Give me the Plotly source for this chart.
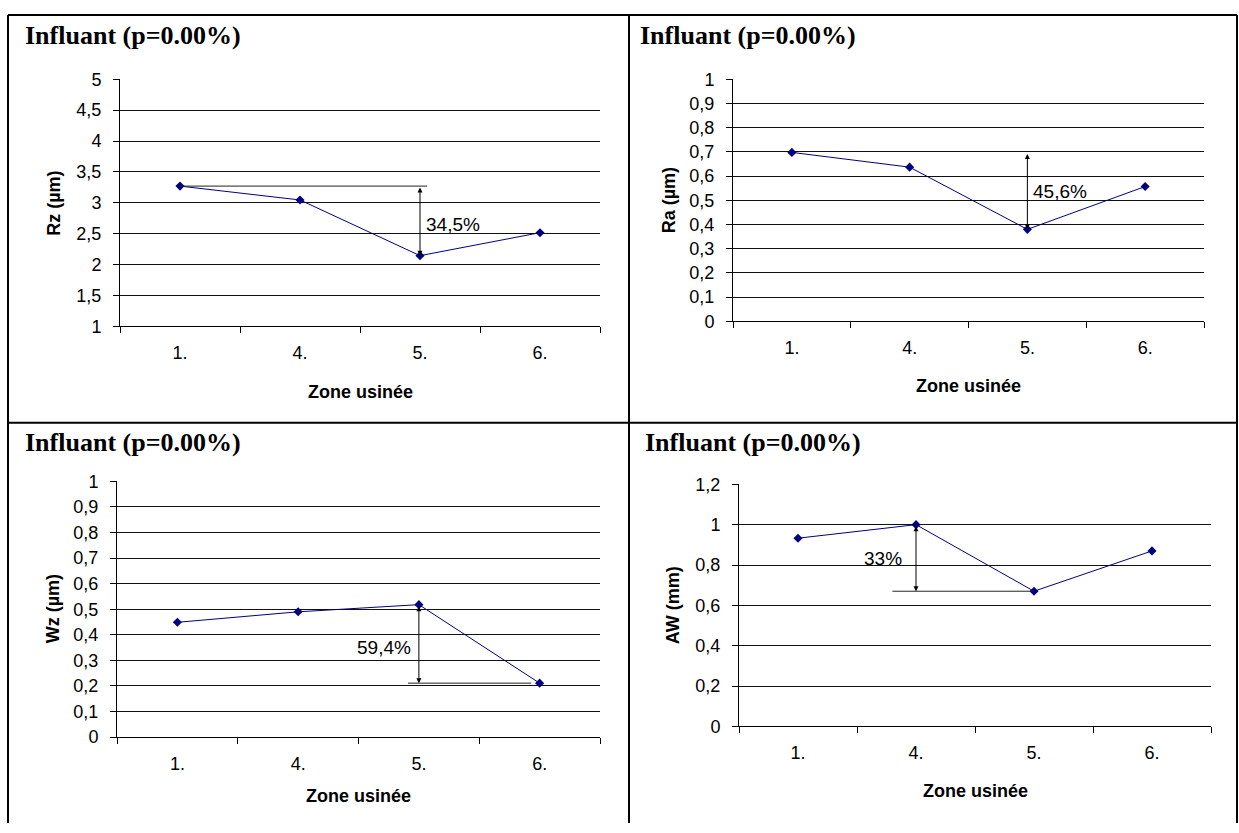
import plotly.graph_objects as go

# ---------------- data ----------------
zones = ["1.", "4.", "5.", "6."]
rz_um = [3.27, 3.045, 2.143, 2.515]
ra_um = [0.698, 0.637, 0.38, 0.557]
wz_um = [0.449, 0.49, 0.518, 0.211]
aw_mm = [0.933, 1.0, 0.67, 0.87]

panel_title = "Influant (p=0.00%)"
x_title = "Zone usinée"
y_titles = ["Rz (µm)", "Ra (µm)", "Wz (µm)", "AW (mm)"]
pct_labels = ["34,5%", "45,6%", "59,4%", "33%"]

W, H = 1239, 833
def px(x): return x / W
def py(y): return 1 - y / H

# plot-area boxes in pixels (left, right, top, bottom)
boxes = [(120, 600, 71, 324), (733, 1204, 71, 319),
         (117, 600, 483, 745), (739, 1211, 486, 734)]
ranges = [(1, 5, 0.5), (0, 1, 0.1), (0, 1, 0.1), (0, 1.2, 0.2)]
series = [rz_um, ra_um, wz_um, aw_mm]
titles_pos = [(23, 26), (638, 26), (23, 443), (643, 443)]
ytitle_x = [54, 669, 53, 673]
xtitle_y = [391, 385, 805, 800]

SANS = "Liberation Sans, Arial, sans-serif"
SERIF = "Liberation Serif, Times New Roman, serif"
NAVY = "#000080"

fig = go.Figure()
layout = dict(width=W, height=H, margin=dict(l=0, r=0, t=0, b=0),
              paper_bgcolor="white", plot_bgcolor="white",
              showlegend=False, separators=", ",
              font=dict(family=SANS, size=18, color="black"))
annotations = []
shapes = []

for i in range(4):
    xa = "x" if i == 0 else f"x{i+1}"
    ya = "y" if i == 0 else f"y{i+1}"
    xk = "xaxis" if i == 0 else f"xaxis{i+1}"
    yk = "yaxis" if i == 0 else f"yaxis{i+1}"
    l, r, t, b = boxes[i]
    lo, hi, dt = ranges[i]
    fig.add_trace(go.Scatter(x=zones, y=series[i], mode="lines+markers",
                             line=dict(color=NAVY, width=1),
                             marker=dict(symbol="diamond", size=7, color=NAVY),
                             xaxis=xa, yaxis=ya, hoverinfo="x+y"))
    layout[xk] = dict(domain=[px(l), px(r)], anchor=ya, type="category",
                      categoryorder="array", categoryarray=zones,
                      range=[-0.5, len(zones) - 0.5], tickson="boundaries",
                      ticks="outside", ticklen=6, tickcolor="black",
                      showline=True, linecolor="black", linewidth=1,
                      showgrid=False, zeroline=False,
                      ticklabelstandoff=10,
                      tickfont=dict(family=SANS, size=18))
    layout[yk] = dict(domain=[py(b), py(t)], anchor=xa, range=[lo, hi],
                      dtick=dt, tick0=0, ticks="outside", ticklen=6,
                      tickcolor="black", showline=True, linecolor="black",
                      linewidth=1, showgrid=True, gridcolor="#111111",
                      gridwidth=1, zeroline=False, ticklabelstandoff=8,
                      tickfont=dict(family=SANS, size=18))
    # panel title
    tx, ty = titles_pos[i]
    annotations.append(dict(text=f"<b>{panel_title}</b>", x=px(tx), y=py(ty),
                            xref="paper", yref="paper", xanchor="left",
                            yanchor="middle", showarrow=False,
                            font=dict(family=SERIF, size=26, color="black")))
    # y-axis title
    annotations.append(dict(text=f"<b>{y_titles[i]}</b>", x=px(ytitle_x[i]),
                            y=py((t + b) / 2), xref="paper", yref="paper",
                            textangle=-90, showarrow=False,
                            xanchor="center", yanchor="middle",
                            font=dict(family=SANS, size=18)))
    # x-axis title
    annotations.append(dict(text=f"<b>{x_title}</b>", x=px((l + r) / 2),
                            y=py(xtitle_y[i]), xref="paper", yref="paper",
                            showarrow=False, xanchor="center", yanchor="middle",
                            font=dict(family=SANS, size=18)))

def arrow(xa, ya, xi, y_top, y_bot):
    return dict(x=xi, y=y_bot, ax=xi, ay=y_top, xref=xa, yref=ya,
                axref=xa, ayref=ya, text="", showarrow=True,
                arrowhead=2, arrowside="end+start", arrowsize=1,
                arrowwidth=1, arrowcolor="black", standoff=0, startstandoff=0)

def hline(xa, ya, x0, x1, yv):
    return dict(type="line", xref=xa, yref=ya, x0=x0, x1=x1, y0=yv, y1=yv,
                line=dict(color="#222222", width=1))

i1, i4, i5, i6 = 0, 1, 2, 3
# Panel 1 : Rz
shapes.append(hline("x", "y", i1, i5 + 0.06, rz_um[i1]))
annotations.append(arrow("x", "y", i5, rz_um[i1], rz_um[i5]))
annotations.append(dict(text=pct_labels[0], x=i5 + 0.03, y=2.64, xref="x", yref="y",
                        xanchor="left", yanchor="middle", showarrow=False,
                        font=dict(size=19)))
# Panel 2 : Ra
annotations.append(arrow("x2", "y2", i5, ra_um[i1], ra_um[i5]))
annotations.append(dict(text=pct_labels[1], x=i5 + 0.03, y=0.536, xref="x2", yref="y2",
                        xanchor="left", yanchor="middle", showarrow=False,
                        font=dict(size=19)))
# Panel 3 : Wz
shapes.append(hline("x3", "y3", i5 - 0.09, i6 - 0.07, wz_um[i6]))
annotations.append(arrow("x3", "y3", i5, wz_um[i5], wz_um[i6]))
annotations.append(dict(text=pct_labels[2], x=i5 - 0.05, y=0.35, xref="x3", yref="y3",
                        xanchor="right", yanchor="middle", showarrow=False,
                        font=dict(size=19)))
# Panel 4 : AW
shapes.append(hline("x4", "y4", i4 - 0.2, i5, aw_mm[i5]))
annotations.append(arrow("x4", "y4", i4, aw_mm[i4], aw_mm[i5]))
annotations.append(dict(text=pct_labels[3], x=i4 - 0.1, y=0.834, xref="x4", yref="y4",
                        xanchor="right", yanchor="middle", showarrow=False,
                        font=dict(size=19)))

# table borders (no bottom edge visible in the reference)
bl = dict(color="black", width=2)
def pline(x0, y0, x1, y1):
    return dict(type="line", xref="paper", yref="paper", x0=px(x0), x1=px(x1),
                y0=py(y0), y1=py(y1), line=bl)
shapes += [pline(8, 5, 1237, 5), pline(8, 5, 8, 833), pline(1237, 5, 1237, 833),
           pline(629, 5, 629, 833), pline(8, 423, 1237, 423)]

layout["annotations"] = annotations
layout["shapes"] = shapes
fig.update_layout(**layout)
fig.write_html(
    "out.html",
    config={"displayModeBar": False},
    post_script="document.body.style.margin='0';document.body.style.padding='0';"
                "document.body.style.overflow='hidden';"
                "document.documentElement.style.overflow='hidden';",
)
